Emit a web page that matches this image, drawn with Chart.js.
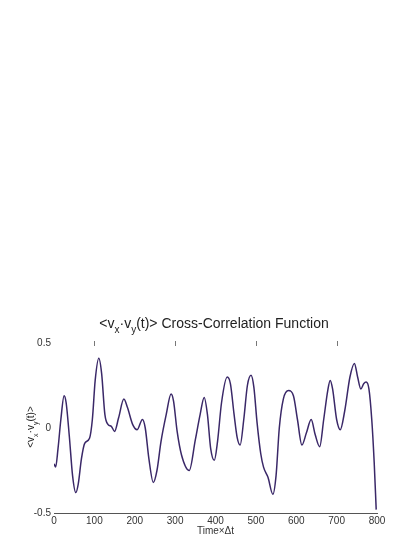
<!DOCTYPE html>
<html>
<head>
<meta charset="utf-8">
<script src="https://cdn.jsdelivr.net/npm/chart.js@4.4.0/dist/chart.umd.min.js"></script>
<style>
  html, body { margin: 0; padding: 0; background: #fff; }
</style>
</head>
<body>
<canvas id="chart" width="416" height="538"></canvas>
<script>
// values
const timeSteps = [0, 4, 10, 17, 25, 30, 38, 46, 54, 60, 68, 76, 88, 95, 102, 111, 118, 126, 134, 142,
  150, 160, 173, 182, 195, 206, 219, 226, 235, 246, 255, 265, 278, 290, 296, 305, 316, 335, 350, 362,
  372, 380, 388, 397, 405, 415, 429, 437, 446, 454, 461, 470, 479, 488, 495, 503, 512, 519, 530, 542,
  550, 558, 568, 581, 593, 603, 614, 625, 637, 647, 658, 668, 678, 684, 690, 700, 709, 720, 733, 744,
  752, 760, 767, 773, 780, 787, 793, 798];
const crossCorr = [-0.21, -0.23, -0.12, 0.05, 0.19, 0.15, -0.05, -0.28, -0.38, -0.33, -0.18, -0.09, -0.06, 0.05, 0.28, 0.41, 0.32, 0.08, 0.02, 0.01,
  -0.02, 0.06, 0.17, 0.12, 0.02, -0.01, 0.05, 0.0, -0.18, -0.32, -0.25, -0.08, 0.08, 0.2, 0.16, -0.02, -0.16, -0.25, -0.07, 0.08,
  0.18, 0.08, -0.12, -0.19, -0.08, 0.15, 0.30, 0.26, 0.08, -0.06, -0.1, 0.05, 0.25, 0.31, 0.24, 0.03, -0.15, -0.23, -0.29, -0.39,
  -0.28, 0.0, 0.17, 0.22, 0.19, 0.05, -0.1, -0.03, 0.05, -0.04, -0.11, 0.05, 0.22, 0.28, 0.23, 0.05, -0.01, 0.1, 0.3, 0.38,
  0.30, 0.23, 0.26, 0.27, 0.23, 0.05, -0.2, -0.48];
const xTicks = [0, 100, 200, 300, 400, 500, 600, 700, 800];
const yTicks = [-0.5, 0, 0.5];
const topTicks = [100, 300, 500, 700];

// [text, isSubscript]
const titleParts = [['<v', 0], ['x', 1], ['\u00b7v', 0], ['y', 1], ['(t)> Cross-Correlation Function', 0]];
const yLabelParts = [['<v', 0], ['x', 1], ['\u00b7v', 0], ['y', 1], ['(t)>', 0]];

const FONT = '"Liberation Sans", Arial, sans-serif';

function drawRich(ctx, parts, cx, baseY, size) {
  const subSize = Math.round(size * 0.72);
  let w = 0;
  parts.forEach(([t, sub]) => {
    ctx.font = (sub ? subSize : size) + 'px ' + FONT;
    w += ctx.measureText(t).width;
  });
  let x = cx - w / 2;
  ctx.textAlign = 'left';
  ctx.textBaseline = 'alphabetic';
  parts.forEach(([t, sub]) => {
    ctx.font = (sub ? subSize : size) + 'px ' + FONT;
    ctx.fillText(t, x, baseY + (sub ? size * 0.38 : 0));
    x += ctx.measureText(t).width;
  });
}

const labelsPlugin = {
  id: 'labels',
  afterDraw(chart) {
    const ctx = chart.ctx;
    const xs = chart.scales.x;
    const top = chart.chartArea.top;
    ctx.save();
    // little tick marks along the top edge
    ctx.strokeStyle = '#777';
    ctx.lineWidth = 1;
    topTicks.forEach(v => {
      const px = Math.round(xs.getPixelForValue(v)) + 0.5;
      ctx.beginPath();
      ctx.moveTo(px, top - 2);
      ctx.lineTo(px, top + 3);
      ctx.stroke();
    });
    ctx.fillStyle = '#222';
    drawRich(ctx, titleParts, 214, 327.5, 14);
    ctx.translate(34, 427);
    ctx.rotate(-Math.PI / 2);
    drawRich(ctx, yLabelParts, 0, 0, 10);
    ctx.restore();
  }
};

new Chart(document.getElementById('chart'), {
  type: 'line',
  data: {
    datasets: [{
      data: timeSteps.map((t, i) => ({ x: t, y: crossCorr[i] })),
      borderColor: '#3a2868',
      borderWidth: 1.5,
      pointRadius: 0,
      cubicInterpolationMode: 'monotone',
      fill: false
    }]
  },
  options: {
    responsive: false,
    animation: false,
    layout: { padding: { top: 343, right: 39, left: 0, bottom: 0 } },
    plugins: { legend: { display: false }, tooltip: { enabled: false }, title: { display: false } },
    scales: {
      x: {
        type: 'linear',
        min: 0,
        max: 800,
        afterBuildTicks: s => { s.ticks = xTicks.map(v => ({ value: v })); },
        afterFit: s => { s.height = 25; },
        grid: { display: false, drawTicks: false },
        border: { display: true, color: '#555', width: 1 },
        ticks: { color: '#333', font: { family: FONT, size: 10 }, padding: 2, maxRotation: 0 },
        title: { display: true, text: 'Time\u00d7\u0394t', color: '#333', font: { family: FONT, size: 10 }, padding: { top: 0, bottom: 1 } }
      },
      y: {
        min: -0.5,
        max: 0.5,
        afterBuildTicks: s => { s.ticks = yTicks.map(v => ({ value: v })); },
        afterFit: s => { s.width = 54; },
        grid: { display: false, drawTicks: false },
        border: { display: false },
        ticks: { color: '#333', font: { family: FONT, size: 10 }, padding: 3, callback: v => String(v) }
      }
    }
  },
  plugins: [labelsPlugin]
});
</script>
</body>
</html>
